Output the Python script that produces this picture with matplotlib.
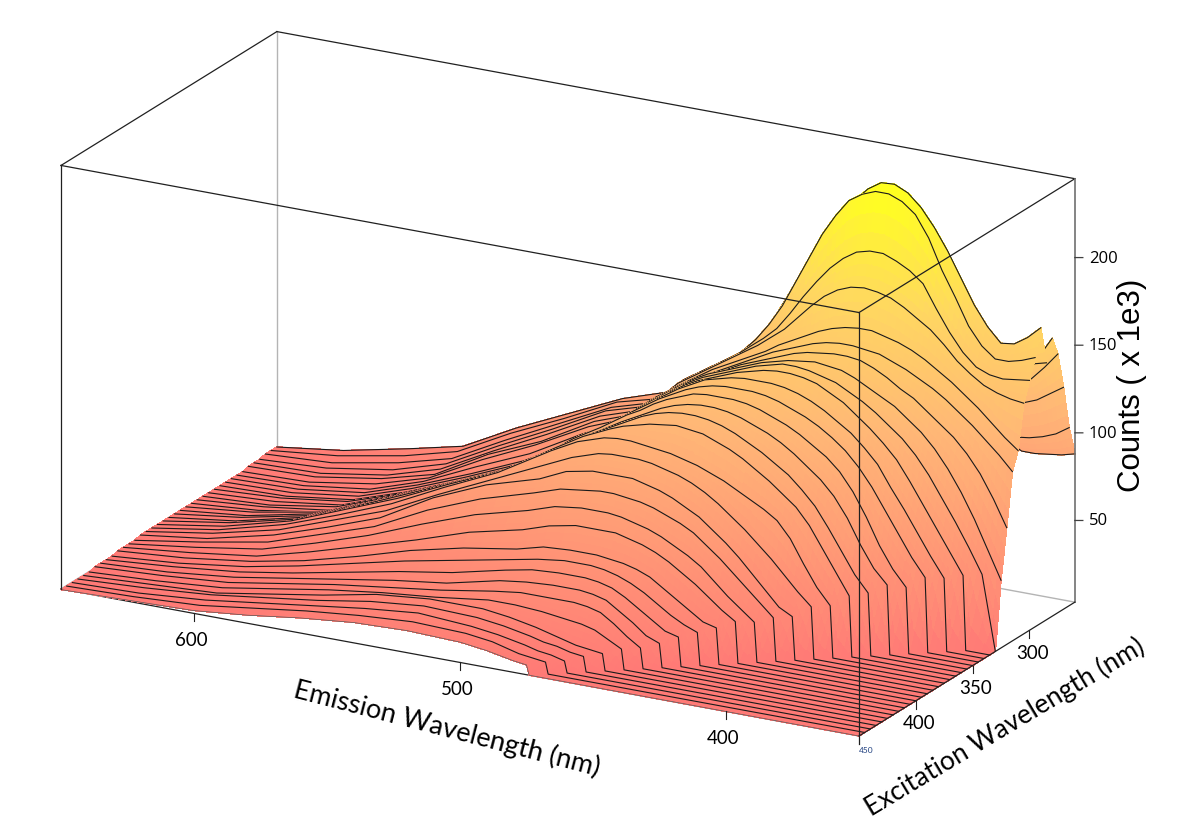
import numpy as np
import matplotlib
matplotlib.use("Agg")
import matplotlib.pyplot as plt
from matplotlib.colors import LinearSegmentedColormap, Normalize
from mpl_toolkits.mplot3d import proj3d

plt.rcParams["font.family"] = ["Lato", "DejaVu Sans"]

# emission columns (nm); rows below leave out the floor part left of the scatter cut-off
emission = [350, 355, 360, 365, 370, 375, 380, 385, 390, 395, 400, 405, 410, 415, 420, 425,
            430, 435, 440, 445, 450, 455, 460, 465, 470, 475, 480,
            490, 500, 520, 540, 560, 580, 600, 625, 650]
excitation = [260, 265, 270, 275, 280, 285, 290, 295, 300, 305, 310, 315, 320, 325, 330, 335,
              340, 345, 350, 355, 360, 365, 370, 375, 380, 385, 390, 395, 400, 405, 410, 415,
              420, 425, 430, 435, 440, 445, 450]
floor_counts = 3.4

counts_260 = [88,86,85,84,84,88,95,103,112,118,122,124,122,118,113,108,103,99,96,94,93,92,92,92,92,93,94, 90,82,72,58,44,28,21,13,8]
counts_265 = [105,100,97,95,94,100,110,120,130,137,141,143,141,136,130,123,116,110,104,100,96,94,93,92,92,92,92, 88,80,72,57,43,27,19,12,8]
counts_270 = [130,125,120,117,115,120,130,141,151,158,162,164,162,157,151,143,135,127,119,112,106,101,97,95,94,94,93, 88,80,71,56,41,25,17,10,8]
counts_275 = [151,142,134,130,130,135,145,157,168,176,181,184,182,176,169,160,151,141,132,123,115,108,102,98,96,95,94, 88,80,71,55,40,24,15,9,7]
counts_280 = [162,150,142,140,142,150,162,175,186,195,201,204,202,196,188,178,168,157,146,135,125,116,108,102,98,96,95, 89,80,70,54,39,23,14,8,7]
counts_285 = [150,148,146,148,155,165,178,191,203,212,219,223,221,215,208,198,187,175,162,150,138,127,118,110,104,100,97, 90,80,69,52,39,22,14,8,7]
counts_290 = [172,165,160,159,167,178,192,206,218,228,235,238.5,238,233,225,215,204,191,178,164,150,138,128,119,111,105,100, 91,80,68,52,38,22,13,7,6]
counts_295 = [157,154,152,152,158,168,183,197,214,226,232,235,235,232,227,217,205,190,175,160,148,138,130,124,118,112,107, 93,80,66,49,36,22,12,7,6]
counts_300 = [146,145,144,145,148,155,165,177,190,196,200,203,203,201,196,189,180,170,159,149,142,136,130,125,120,115,110, 95,80,64,47,34,22,12,7,6]
counts_305 = [135,136,138,141,146,152,160,167,172,177,181,183,184,183,180,175,168,160,152,146,140,135,130,125,120,115,110, 95,80,64,47,34,22,12,7,6]
counts_310 = [110,116,123,130,136,142,147,152,156,159,161,163,163,162,160,157,153,149,145,140,136,132,128,124,119,114,109, 95,80,64,47,34,22,12,7,6]
counts_315 = [100,108,115,122,128,134,139,143,147,150,153,154,155,155,154,152,149,146,143,139,135,131,127,123,118,113,108, 95,81,65,48,35,23,13,8,6]
counts_320 = [70,85,98,108,116,122,128,134,138,143,147,150,151,151,150,149,147,144,141,138,135,131,127,124,119,114,109, 95,82,66,49,36,24,13,8,6]
counts_325 = [42,58,74,88,100,110,118,124,130,134,138,142,145,146,147,146,145,143,141,138,135,132,129,125,120,115,110, 97,84,66,50,36,25,14,8,6]
counts_330 = [46,60,73,85,97,107,115,121,127,132,136,140,142,144,145,145,143,141,138,135,132,129,125,120,115,110, 97,85,64,49,38,26,14,9,6]
counts_335 = [46,58,70,82,94,105,113,120,126,132,136,140,142,143,143,142,140,138,135,132,129,125,120,115,110, 98,86,65,50,39,27,15,9,6]
counts_340 = [45,56,68,80,91,103,111,118,123,128,132,135,137,138,138,138,137,135,133,129,125,120,115,110, 98,87,66,51,40,28,17,10,6]
counts_345 = [46,56,68,80,92,102,110,116,121,125,128,131,133,134,134,134,133,131,128,124,120,115,110, 99,88,67,52,41,30,18,10,6]
counts_350 = [41,50,62,77,90,100,107,112,117,121,124,127,129,130,130,130,129,126,123,119,114,110, 100,91,69,55,43,31,19,11,6]
counts_355 = [43,51,63,77,88,96,102,108,113,117,120,123,125,126,126,125,123,120,116,112,108, 99,89,71,58,45,32,20,11,6]
counts_360 = [39,48,60,72,83,91,98,103,108,112,116,119,121,122,122,121,119,116,112,108, 100,91,72,59,46,33,21,12,6]
counts_365 = [38,50,62,74,83,89,95,100,105,109,112,115,116,117,116,115,113,111,108, 101,92,73,60,46,34,22,12,6]
counts_370 = [33,42,54,67,76,81,85,89,93,96,99,101,103,104,105,106,106,105, 100,92,74,60,45,33,22,12,6]
counts_375 = [33,40,48,56,63,70,76,82,87,91,94,96,98,99,99,99,98, 93,86,72,58,43,32,21,12,6]
counts_380 = [28,32,40,48,56,63,69,75,79,83,86,88,90,90,90,90, 87,80,71,58,41,30,20,11,6]
counts_385 = [28,35,42,49,56,62,68,72,75,78,80,81,82,82,81, 79,74,65,53,38,28,18,11,5]
counts_390 = [26,32,38,45,52,57,61,65,68,70,72,73,73,73, 71,66,58,47,35,25,16,10,5]
counts_395 = [27,32,38,44,49,54,58,61,63,65,65,65,65, 62,57,50,40,31,22,14,9,5]
counts_400 = [24,26,31,36,41,46,49,51,52,53,53,53, 52,48,43,36,27,19,13,8,5]
counts_405 = [22,25,29,34,39,43,46,48,49,49,49, 47,44,38,32,25,18,12,7,4]
counts_410 = [20,22,27,32,37,41,43,44,44,44, 43,40,33,28,22,16,11,7,4]
counts_415 = [17,20,26,31,36,38,39,39,39, 38,36,29,25,20,15,10,6,4]
counts_420 = [15,20,26,31,33,34,34,34, 34,32,27,23,19,14,9,6,4]
counts_425 = [15,19,23,25,26,27,28, 29,29,25,22,18,13,8,5,3]
counts_430 = [13,14,15,17,19,21, 24,26,26,23,17,12,7,5,3]
counts_435 = [12,13,15,16,18, 21,23,24,21,16,12,8,5,3]
counts_440 = [10,12,13,15, 18,20,22,19,15,11,7,4,3]
counts_445 = [10,11,12, 16,18,19,17,14,10,6,4,3]
counts_450 = [9,10, 13,15,16,15,12,8,5,4,3]

count_rows = [counts_260, counts_265, counts_270, counts_275, counts_280, counts_285, counts_290,
              counts_295, counts_300, counts_305, counts_310, counts_315, counts_320, counts_325,
              counts_330, counts_335, counts_340, counts_345, counts_350, counts_355, counts_360,
              counts_365, counts_370, counts_375, counts_380, counts_385, counts_390, counts_395,
              counts_400, counts_405, counts_410, counts_415, counts_420, counts_425, counts_430,
              counts_435, counts_440, counts_445, counts_450]

emission_ticks = [400, 500, 600]
excitation_ticks = [300, 350, 400]
count_ticks = [50, 100, 150, 200]

EM_LIM = (650, 350)
EX_LIM = (450, 260)
Z_LIM = (floor_counts, 245)
W, H = 1185, 828
SUBDIV = 3


def build_grid():
    em = np.array(emission, dtype=float)
    X, Y, Z = [], [], []
    for ex, row in zip(excitation, count_rows):
        pad = len(em) - len(row)
        xs = em.copy()
        # the rise is nearly a step, so pull the last floor node up against it
        if pad > 1:
            xs[pad - 1] = em[pad] - 1
        X.append(xs)
        Y.append(np.full(len(em), float(ex)))
        Z.append(np.r_[np.full(pad, floor_counts), row])
    return np.array(X), np.array(Y), np.array(Z)


def split_faces(a, b):
    """Cut the quads between two grid rows into smaller ones, so the colour runs smoothly."""
    pos = np.arange((len(a) - 1) * SUBDIV + 1) / SUBDIV
    left = np.minimum(pos.astype(int), len(a) - 2)
    w = pos - left
    a_f = a[left] * (1 - w) + a[left + 1] * w
    b_f = b[left] * (1 - w) + b[left + 1] * w
    s = np.linspace(0, 1, SUBDIV + 1)[:, None]
    return a_f * (1 - s) + b_f * s


def to_pixels(ax, x, y, z):
    xs, ys, _ = proj3d.proj_transform(x, y, z, ax.get_proj())
    return ax.transData.transform((xs, ys))


def fit_box(ax, aspect):
    """Scale and shift the 3D box so its front corners land where the chart has them."""
    ax.set_box_aspect(aspect)
    ax.apply_aspect()
    front = to_pixels(ax, 350, 450, floor_counts)
    left = to_pixels(ax, 650, 450, floor_counts)
    ax.set_box_aspect(aspect, zoom=798 / (front[0] - left[0]))
    ax.apply_aspect()
    front = to_pixels(ax, 350, 450, floor_counts)
    pos = ax.get_position()
    ax.set_position([pos.x0 + (859 - front[0]) / W, pos.y0 + (H - 737 - front[1]) / H,
                     pos.width, pos.height])
    ax.apply_aspect()


def draw_box(ax):
    zb, zt = Z_LIM
    dark = dict(color="#202020", lw=0.9)
    grey = dict(color="#b4b4b4", lw=1.0)
    mid = dict(color="#707070", lw=1.2)
    # behind the surface
    ax.plot([650, 650], [260, 260], [zb, zt], zorder=1, **grey)
    ax.plot([650, 350], [260, 260], [zb, zb], zorder=1, **grey)
    ax.plot([650, 650], [450, 260], [zb, zb], zorder=1, **grey)
    # over the surface
    top = 1000
    ax.plot([650, 650], [450, 260], [zt, zt], zorder=top, **dark)
    ax.plot([650, 350], [260, 260], [zt, zt], zorder=top, **dark)
    ax.plot([650, 350], [450, 450], [zt, zt], zorder=top, **dark)
    ax.plot([350, 350], [450, 260], [zt, zt], zorder=top, **dark)
    ax.plot([650, 650], [450, 450], [zb, zt], zorder=top, **dark)
    ax.plot([350, 350], [450, 450], [zb - 4.5, zt], zorder=top, **dark)
    ax.plot([350, 350], [260, 260], [zb, zt], zorder=top, **mid)
    ax.plot([650, 350], [450, 450], [zb, zb], zorder=5, **dark)
    ax.plot([350, 350], [450, 260], [zb, zb], zorder=top, **dark)


def put_label(fig, px, dx, dy, text, **kw):
    fig.text((px[0] + dx) / W, (px[1] - dy) / H, text, va="center", **kw)


def draw_ticks(fig, ax):
    zb = Z_LIM[0]
    top = 1001
    for t in emission_ticks:
        ax.plot([t, t], [450, 450], [zb, zb - 4.5], color="#202020", lw=0.8, zorder=top)
        put_label(fig, to_pixels(ax, t, 450, zb), -3, 26, str(t), fontsize=13.5, ha="center")
    for t in excitation_ticks:
        ax.plot([350, 350], [t, t], [zb, zb - 4.5], color="#202020", lw=0.8, zorder=top)
        put_label(fig, to_pixels(ax, 350, t, zb), 3, 22, str(t), fontsize=13.5, ha="center")
    put_label(fig, to_pixels(ax, 350, 450, zb), 7, 14, "450", fontsize=6, color="#1f3f7f", ha="center")
    for t in count_ticks:
        ax.plot([350, 347], [260, 260], [t, t + 0.83], color="#404040", lw=0.9, zorder=top)
        put_label(fig, to_pixels(ax, 350, 260, t), 14, 0, str(t), fontsize=12, ha="left",
                  family=["Open Sans", "DejaVu Sans"])


def main():
    fig = plt.figure(figsize=(W / 100, H / 100), dpi=100)
    side = 1400
    ax = fig.add_axes([(W - side) / 2 / W, (H - side) / 2 / H, side / W, side / H],
                      projection="3d", computed_zorder=False)
    ax.set_proj_type("ortho")
    ax.view_init(elev=19.76, azim=-61.4)
    ax.set_xlim(*EM_LIM)
    ax.set_ylim(*EX_LIM)
    ax.set_zlim(*Z_LIM)
    ax.set_axis_off()
    ax.patch.set_alpha(0)
    fit_box(ax, (909, 451, 450))

    X, Y, Z = build_grid()
    cmap = LinearSegmentedColormap.from_list(
        "peach", [(0, "#ff7a76"), (0.5, "#ffb876"), (0.75, "#ffd860"), (1, "#ffff20")])
    norm = Normalize(3, 235)
    for i in range(len(excitation) - 1):
        xs = split_faces(X[i], X[i + 1])
        ys = split_faces(Y[i], Y[i + 1])
        zs = split_faces(Z[i], Z[i + 1])
        face = (zs[:-1, :-1] + zs[:-1, 1:] + zs[1:, :-1] + zs[1:, 1:]) / 4
        ax.plot_surface(xs, ys, zs, rstride=1, cstride=1, facecolors=cmap(norm(face)), shade=False,
                        linewidth=0.4, antialiased=False, zorder=10 + 2 * i)
        ax.plot(X[i], Y[i], Z[i], color="#1a1a1a", lw=0.8, zorder=11 + 2 * i)
    ax.plot(X[-1], Y[-1], Z[-1], color="#555555", lw=0.5, zorder=10 + 2 * len(excitation))

    draw_box(ax)
    draw_ticks(fig, ax)

    fig.text(447 / W, 1 - 729 / H, "Emission Wavelength (nm)", fontsize=19.5, rotation=-14.5,
             ha="center", va="center", rotation_mode="anchor")
    fig.text(1005 / W, 1 - 727 / H, "Excitation Wavelength (nm)", fontsize=19, rotation=31,
             ha="center", va="center", rotation_mode="anchor")
    fig.text(1132 / W, 1 - 385 / H, "Counts ( x 1e3)", fontsize=22.5, rotation=90,
             ha="center", va="center", rotation_mode="anchor",
             family=["Liberation Sans", "DejaVu Sans"])

    fig.savefig("out.png", dpi=100, facecolor="white")


if __name__ == "__main__":
    main()
